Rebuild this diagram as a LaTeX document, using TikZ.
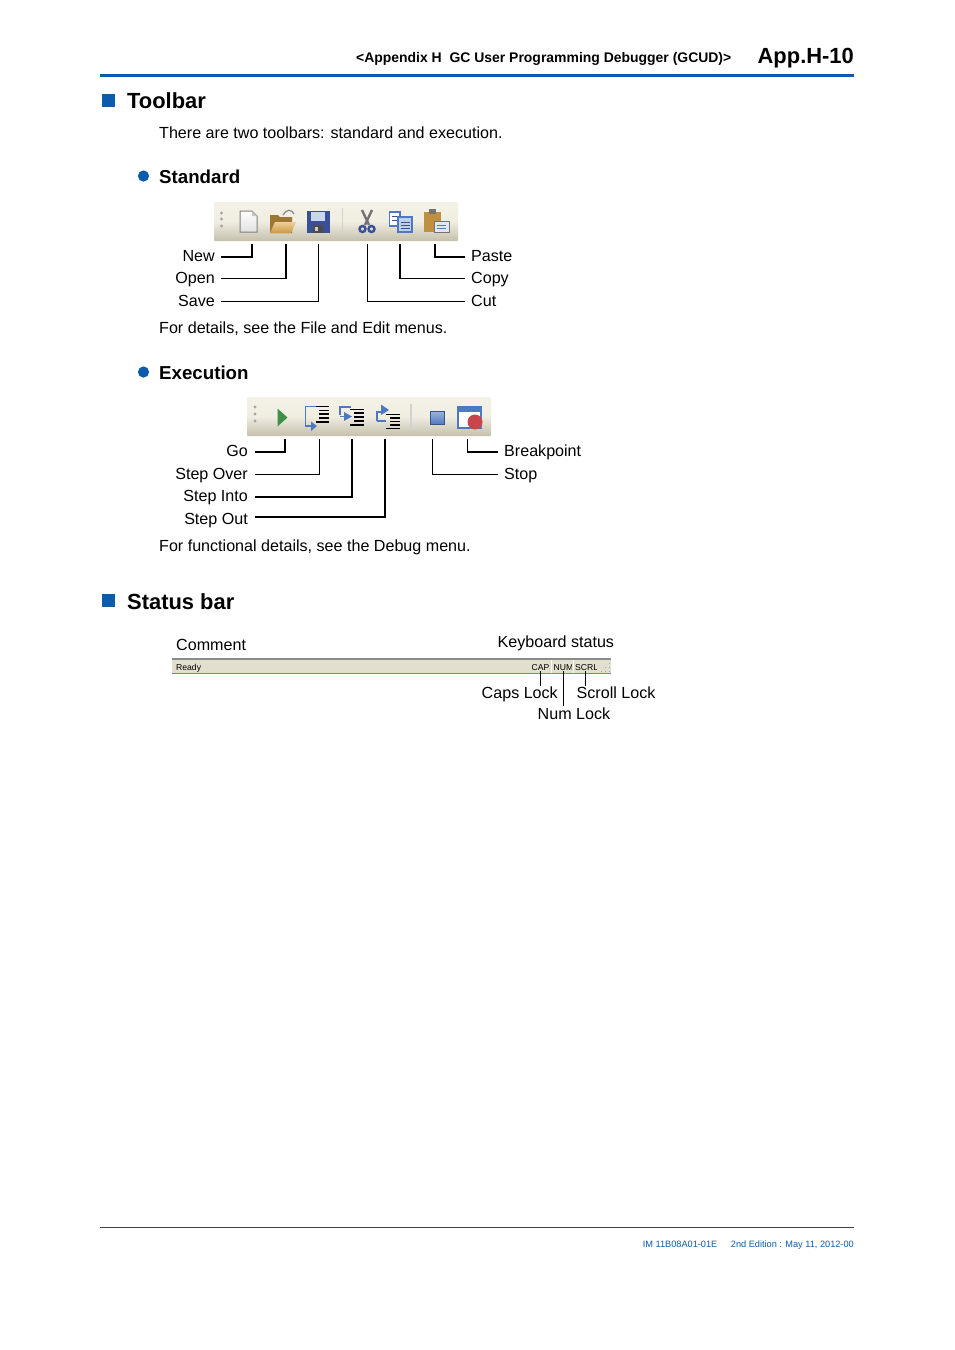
\documentclass[tikz,border=0pt]{standalone}
\usepackage{fontspec}
\setmainfont{Liberation Sans}
\usetikzlibrary{calc}
\definecolor{ykblue}{HTML}{0B5CAB}
\definecolor{barlight}{HTML}{F4F1E6}
\definecolor{bardark}{HTML}{C4C0AC}
\definecolor{statusbar}{HTML}{E2DFCF}
\definecolor{iconblue}{HTML}{4E78C0}
\definecolor{icondark}{HTML}{3A4F9A}
\definecolor{iconorange}{HTML}{E0A94A}
\definecolor{icongreen}{HTML}{3F8F4A}
\definecolor{iconred}{HTML}{C8454C}
\newcommand{\fsz}[1]{\fontsize{#1}{#1}\selectfont}
\tikzset{
  x=1pt,y=-1pt,
  txt/.style={inner sep=0pt,anchor=base west,font=\fsz{16.1}},
  txtr/.style={inner sep=0pt,anchor=base east,font=\fsz{16.1}},
  head/.style={inner sep=0pt,anchor=base west,font=\fsz{21.9}\bfseries},
  subhead/.style={inner sep=0pt,anchor=base west,font=\fsz{18.7}\bfseries},
  foot/.style={inner sep=0pt,anchor=base east,font=\fsz{9.2},text=ykblue},
  lead/.style={draw=black,line width=1.6pt,line join=miter},
  leadthin/.style={draw=black,line width=0.9pt,line join=miter},
  bullsq/.style={fill=ykblue,draw=none},
  bullc/.style={fill=ykblue,draw=none},
  toolbar/.style={draw=none,top color=barlight,bottom color=bardark,middle color=barlight!92!bardark,rounded corners=0.8pt},
  grip/.style={fill=black!35,draw=none},
}
\begin{document}
\begin{tikzpicture}
\useasboundingbox (0,0) rectangle (954,1350);
\fill[white] (0,0) rectangle (954,1350);
% ---------- header
\node[inner sep=0pt,anchor=base east,font=\fsz{13.95}\bfseries] (hdr) at (731.5,62) {<Appendix H\ \ GC User Programming Debugger (GCUD)>};
\node[inner sep=0pt,anchor=base east,font=\fsz{21.9}\bfseries] (page) at (854,63) {App.H-10};
\fill[ykblue] (100,73.7) rectangle (854,76.8);
% ---------- Toolbar
\fill[bullsq] (102,94) rectangle (115,107);
\node[head] (t1) at (127,108) {Toolbar};
\node[txt] (t2) at (159,138) {There are two toolbars: standard and execution.};
\fill[bullc] (143.5,176) circle (5.6);
\node[subhead] (t3) at (159,183) {Standard};
% toolbar 1
\shade[toolbar] (214,202) rectangle (458,241);
\foreach \yy in {213,219,226}{\fill[grip] (221.5,\yy) circle (1.6);}
% new
\shade[top color=white,bottom color=black!12,draw=black!50,line width=1pt] (240,211) -- (252,211) -- (257,216) -- (257,232) -- (240,232) -- cycle;
\fill[black!22] (252,211) -- (257,216) -- (252,216) -- cycle;
% open
\fill[iconorange!70!black] (270,215) -- (278,215) -- (280,217) -- (292,217) -- (292,233) -- (270,233) -- cycle;
\shade[top color=iconorange!55!white,bottom color=iconorange!90!black] (270,233) -- (275,222) -- (296,222) -- (291,233) -- cycle;
\draw[black!45,line width=1.3pt] (283,215) .. controls (286,209) and (292,209) .. (294,214);
% save
\fill[icondark] (306.5,210.5) rectangle (329.5,233);
\fill[iconblue!30!white] (311,211.5) rectangle (325,221);
\fill[black!70] (313,225) rectangle (323,233);
\fill[white!80!black] (315,226.5) rectangle (318,231);
% separator
\draw[black!18,line width=1.2pt] (342.5,208) -- (342.5,236);
% cut
\draw[black!55,line width=2.4pt] (362,210) -- (369,225) (372,210) -- (365,225);
\draw[icondark,line width=2.4pt] (362.5,229) circle (3) (371.5,229) circle (3);
% copy
\filldraw[fill=white,draw=iconblue,line width=1.1pt] (389.5,212) rectangle (400,226);
\filldraw[fill=iconblue!35!white,draw=iconblue,line width=1.1pt] (398,217) rectangle (412,232);
\draw[icondark,line width=0.9pt] (391.5,216) -- (397,216) (391.5,220) -- (397,220) (400.5,222) -- (409.5,222) (400.5,225) -- (409.5,225) (400.5,228) -- (409.5,228);
% paste
\fill[iconorange!85!black] (424,212) rectangle (441,232);
\fill[black!55] (429,209) rectangle (436,214);
\filldraw[fill=iconblue!18!white,draw=black!55,line width=0.8pt] (434,221) rectangle (449,232);
\draw[iconblue,line width=0.8pt] (437,225) -- (446,225) (437,228) -- (446,228);
% labels & connectors
\node[txtr] (new) at (215,261) {New};
\node[txtr] (open) at (215,283) {Open};
\node[txtr] (save) at (215,306.3) {Save};
\node[txt] (paste) at (471,261) {Paste};
\node[txt] (copy) at (471,283) {Copy};
\node[txt] (cut) at (471,306.3) {Cut};
\coordinate (newL) at (221.2,256.8);  \coordinate (newT) at (251.7,243.5);
\coordinate (openL) at (221.2,278.4); \coordinate (openT) at (286.2,243.5);
\coordinate (saveL) at (221.2,301);   \coordinate (saveT) at (318.5,243.5);
\coordinate (cutR) at (465,301);      \coordinate (cutT) at (367.7,243.5);
\coordinate (copyR) at (465,278.4);   \coordinate (copyT) at (400,243.5);
\coordinate (pasteR) at (465,256.8);  \coordinate (pasteT) at (435,243.5);
\draw[lead] (newL) -| (newT);
\draw[lead] (openL) -| (openT);
\draw[leadthin] (saveL) -| (saveT);
\draw[leadthin] (cutR) -| (cutT);
\draw[lead] (copyR) -| (copyT);
\draw[lead] (pasteR) -| (pasteT);
\node[txt] (t4) at (159,333) {For details, see the File and Edit menus.};
% ---------- Execution
\fill[bullc] (143.5,372) circle (5.6);
\node[subhead] (t5) at (159,379) {Execution};
\shade[toolbar] (247,397) rectangle (491,436);
\foreach \yy in {407,414,421}{\fill[grip] (255,\yy) circle (1.6);}
% go
\fill[icongreen] (277.5,408.5) -- (287.5,417.5) -- (277.5,426.5) -- cycle;
% step over
\draw[iconblue,line width=1.6pt] (316,406.5) -- (305.5,406.5) -- (305.5,426) -- (312,426);
\fill[iconblue] (311,421.5) -- (317,426) -- (311,431) -- cycle;
\draw[black,line width=1.2pt] (316,406.5) -- (329,406.5) (319,410.5) -- (329,410.5) (319,414) -- (329,414) (319,418) -- (329,418) (316,422) -- (329,422);
% step into
\draw[iconblue,line width=1.5pt] (340,415) -- (340,407) -- (351,407);
\fill[iconblue] (344,412) -- (344,421) -- (352,416.5) -- cycle;
\draw[iconblue,line width=1.5pt] (340,416.5) -- (345,416.5);
\draw[black,line width=1.2pt] (350,409.5) -- (364,409.5) (354,413) -- (364,413) (354,417) -- (364,417) (354,421) -- (364,421) (350,425) -- (364,425);
% step out
\draw[iconblue,line width=1.5pt] (377,421) -- (377,412) -- (385,412) ;
\fill[iconblue] (381,404.5) -- (389,410) -- (381,415) -- cycle;
\draw[iconblue,line width=1.5pt] (377,421) -- (386,421);
\draw[black,line width=1.2pt] (386,414.5) -- (400,414.5) (390,418) -- (400,418) (390,421.5) -- (400,421.5) (390,425) -- (400,425) (386,428.5) -- (400,428.5);
% separator
\draw[black!18,line width=1.2pt] (411,404) -- (411,430);
% stop
\shade[draw=iconblue!70!black,line width=0.6pt,top color=iconblue!55!white,bottom color=iconblue] (430,411) rectangle (444,424.5);
% breakpoint
\filldraw[fill=white,draw=iconblue,line width=1.2pt] (458,407) rectangle (481,428);
\fill[iconblue] (458,406.5) rectangle (481,411.5);
\fill[iconred] (475,422) circle (7.5);
% labels & connectors
\node[txtr] (go) at (248,456) {Go};
\node[txtr] (over) at (248,479) {Step Over};
\node[txtr] (into) at (248,501) {Step Into};
\node[txtr] (sout) at (248,524) {Step Out};
\node[txt] (bp) at (504,456) {Breakpoint};
\node[txt] (stop) at (504,479) {Stop};
\coordinate (goL) at (254.5,451.7);   \coordinate (goT) at (284.7,439);
\coordinate (overL) at (254.5,474);   \coordinate (overT) at (319.2,439);
\coordinate (intoL) at (254.5,496.7); \coordinate (intoT) at (351.7,439);
\coordinate (outL) at (255,516.9);    \coordinate (outT) at (384.7,439);
\coordinate (stopR) at (498,474);     \coordinate (stopT) at (432.7,439);
\coordinate (bpR) at (498,451.7);     \coordinate (bpT) at (467.3,439);
\draw[lead] (goL) -| (goT);
\draw[leadthin] (overL) -| (overT);
\draw[lead] (intoL) -| (intoT);
\draw[lead] (outL) -| (outT);
\draw[leadthin] (stopR) -| (stopT);
\draw[lead] (bpR) -| (bpT);
\node[txt] (t6) at (159,551) {For functional details, see the Debug menu.};
% ---------- Status bar
\fill[bullsq] (102,594) rectangle (115,607);
\node[head] (t7) at (127,609) {Status bar};
\node[txt] (comment) at (176,650) {Comment};
\node[txt] (kbd) at (497.5,647) {Keyboard status};
\fill[statusbar] (172,658.5) rectangle (611,674);
\fill[black!45] (172,658) rectangle (611,659.5);
\fill[iconblue!70!black!70] (172,673.3) rectangle (611,674);
\node[inner sep=0pt,anchor=base west,font=\fsz{8.6}] (ready) at (176,670) {Ready};
\begin{scope}
\clip (530,660) rectangle (549.5,673);
\node[inner sep=0pt,anchor=base west,font=\fsz{8.6}] (caps) at (531.5,670) {CAPS};
\end{scope}
\begin{scope}
\clip (553,660) rectangle (571,673);
\node[inner sep=0pt,anchor=base west,font=\fsz{8.6}] (numi) at (553.5,670) {NUM};
\end{scope}
\begin{scope}
\clip (575,660) rectangle (596.5,673);
\node[inner sep=0pt,anchor=base west,font=\fsz{8.6}] (scrl) at (575,670) {SCRL};
\end{scope}
\draw[white,line width=0.8pt] (551.5,660) -- (551.5,673) (573.5,660) -- (573.5,673);
\foreach \px/\py in {609/663,609/667,609/671,605/667,605/671,601/671}{\fill[black!35] (\px,\py) rectangle ++(1.2,1.2);}
\node[txtr] (capsl) at (558,698) {Caps Lock};
\node[txt] (scrll) at (576.5,698) {Scroll Lock};
\node[txt] (numl) at (537.5,719) {Num Lock};
\coordinate (capsT) at (540.3,671);   \coordinate (capsB) at (540.3,685.5);
\coordinate (numT) at (563,671);      \coordinate (numB) at (563,706);
\coordinate (scrT) at (585.7,671);    \coordinate (scrB) at (585.7,685.5);
\draw[leadthin] (capsT) -- (capsB);
\draw[leadthin] (numT) -- (numB);
\draw[leadthin] (scrT) -- (scrB);
% ---------- footer
\draw[black!75,line width=0.8pt] (100,1227.5) -- (854,1227.5);
\node[foot] (f1) at (717.5,1247) {IM 11B08A01-01E};
\node[foot] (f2) at (854,1247) {2nd Edition : May 11, 2012-00};
\end{tikzpicture}
\end{document}
